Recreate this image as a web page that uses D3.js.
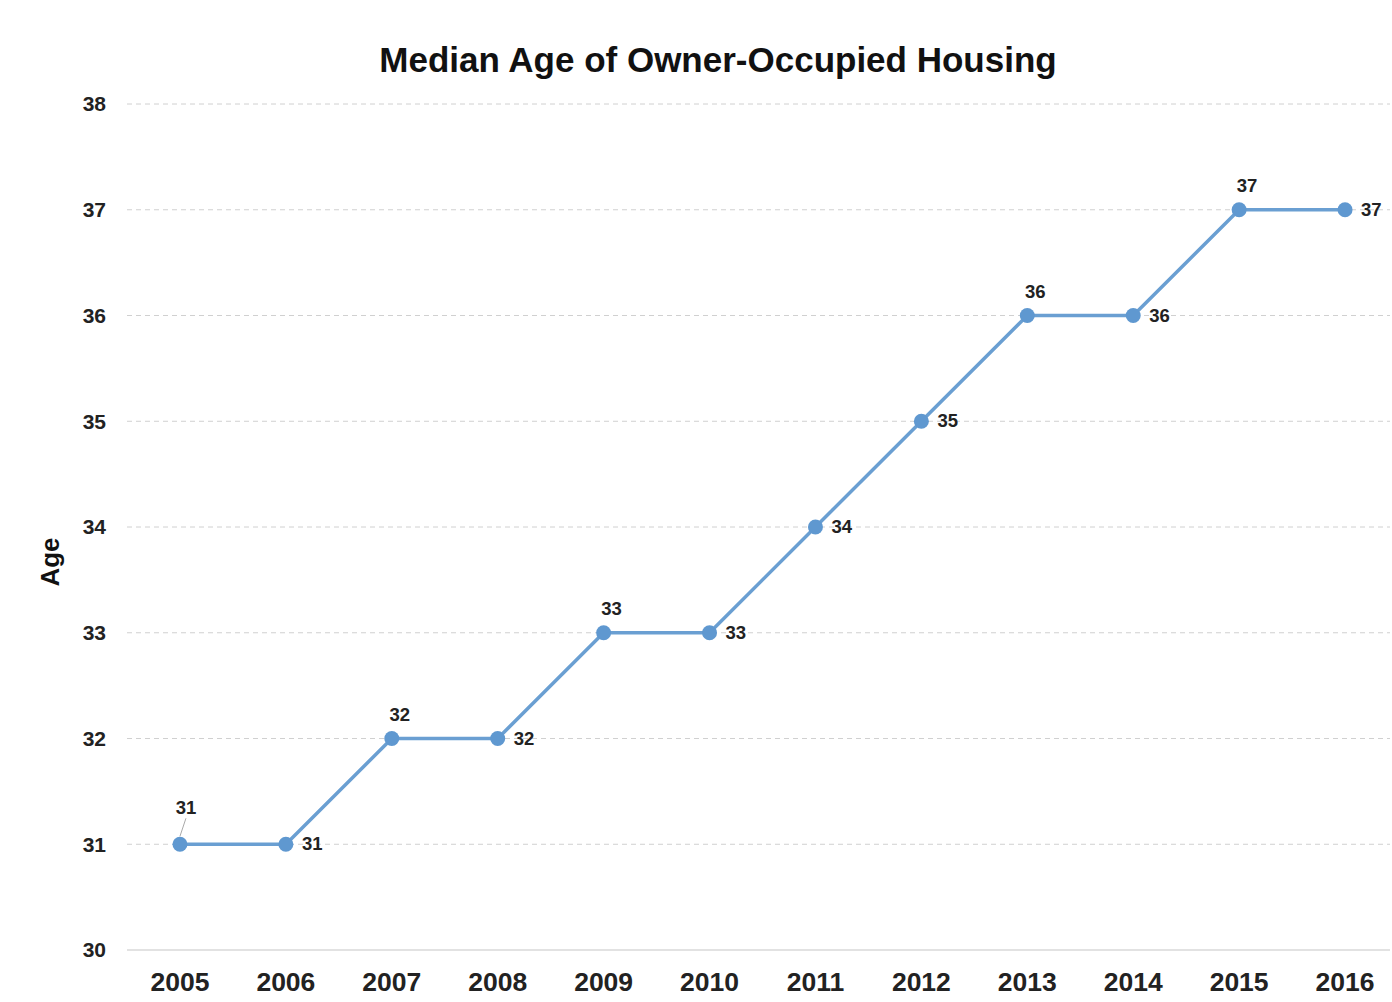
<!DOCTYPE html>
<html>
<head>
  <title>Median Age of Owner-Occupied Housing</title>
  <script src="https://cdn.jsdelivr.net/npm/d3@7"></script>
  <style>
    body { margin: 0; background: #fff; }
    svg { font-family: "Liberation Sans", Arial, sans-serif; }
    .grid line { stroke: #d0d0d0; stroke-dasharray: 5 4; }
  </style>
</head>
<body>
  <div id="chart"></div>
  <script>
    const years = ["2005", "2006", "2007", "2008", "2009", "2010", "2011", "2012", "2013", "2014", "2015", "2016"];
    const ages = [31, 31, 32, 32, 33, 33, 34, 35, 36, 36, 37, 37];
    const labelPos = ["top", "right", "top", "right", "top", "right", "right", "right", "top", "right", "top", "right"];
    const yTicks = [30, 31, 32, 33, 34, 35, 36, 37, 38];

    const width = 1392, height = 1002;
    const plotLeft = 127, plotRight = 1398, plotTop = 104, plotBottom = 950;

    const svg = d3.select("#chart").append("svg")
      .attr("width", width)
      .attr("height", height);

    const x = d3.scaleBand().domain(years).range([plotLeft, plotRight]);
    const y = d3.scaleLinear().domain([30, 38]).range([plotBottom, plotTop]);

    // gridlines
    svg.append("g")
      .attr("class", "grid")
      .selectAll("line")
      .data(yTicks.slice(1))
      .join("line")
        .attr("x1", plotLeft)
        .attr("x2", 1390)
        .attr("y1", d => y(d))
        .attr("y2", d => y(d));

    // baseline
    svg.append("line")
      .attr("x1", plotLeft).attr("x2", 1390)
      .attr("y1", y(30)).attr("y2", y(30))
      .attr("stroke", "#d9d9d9").attr("stroke-width", 1.5);

    // y axis labels
    svg.append("g")
      .selectAll("text")
      .data(yTicks)
      .join("text")
        .attr("x", 106)
        .attr("y", d => y(d))
        .attr("dy", "0.35em")
        .attr("text-anchor", "end")
        .attr("font-size", 21)
        .attr("font-weight", "bold")
        .attr("fill", "#222")
        .text(d => d);

    // x axis labels
    svg.append("g")
      .selectAll("text")
      .data(years)
      .join("text")
        .attr("x", d => x(d) + x.bandwidth() / 2)
        .attr("y", 991)
        .attr("text-anchor", "middle")
        .attr("font-size", 26.5)
        .attr("font-weight", "bold")
        .attr("fill", "#222")
        .text(d => d);

    // title
    svg.append("text")
      .attr("x", 718).attr("y", 72)
      .attr("text-anchor", "middle")
      .attr("font-size", 35)
      .attr("font-weight", "bold")
      .attr("fill", "#111")
      .text("Median Age of Owner-Occupied Housing");

    // axis title
    svg.append("text")
      .attr("transform", "translate(59,562) rotate(-90)")
      .attr("text-anchor", "middle")
      .attr("font-size", 26)
      .attr("font-weight", "bold")
      .attr("fill", "#111")
      .text("Age");

    const data = years.map((yr, i) => ({ year: yr, age: ages[i], pos: labelPos[i] }));
    const cx = d => x(d.year) + x.bandwidth() / 2;

    const line = d3.line().x(cx).y(d => y(d.age));

    svg.append("path")
      .datum(data)
      .attr("d", line)
      .attr("fill", "none")
      .attr("stroke", "#6a9fd2")
      .attr("stroke-width", 3.5);

    svg.append("g")
      .selectAll("circle")
      .data(data)
      .join("circle")
        .attr("cx", cx)
        .attr("cy", d => y(d.age))
        .attr("r", 7.5)
        .attr("fill", "#5f98d0");

    // leader line for the first label
    svg.append("line")
      .attr("x1", cx(data[0])).attr("y1", y(data[0].age) - 8)
      .attr("x2", cx(data[0]) + 6).attr("y2", y(data[0].age) - 26)
      .attr("stroke", "#aaa").attr("stroke-width", 1);

    svg.append("g")
      .selectAll("text")
      .data(data)
      .join("text")
        .attr("x", (d, i) => d.pos === "right" ? cx(d) + 16 : cx(d) + (i === 0 ? 6 : 8))
        .attr("y", (d, i) => d.pos === "right" ? y(d.age) + 6 : y(d.age) - (i === 0 ? 30 : 18))
        .attr("text-anchor", d => d.pos === "right" ? "start" : "middle")
        .attr("font-size", 18.5)
        .attr("font-weight", "bold")
        .attr("fill", "#222")
        .text(d => d.age);
  </script>
</body>
</html>
